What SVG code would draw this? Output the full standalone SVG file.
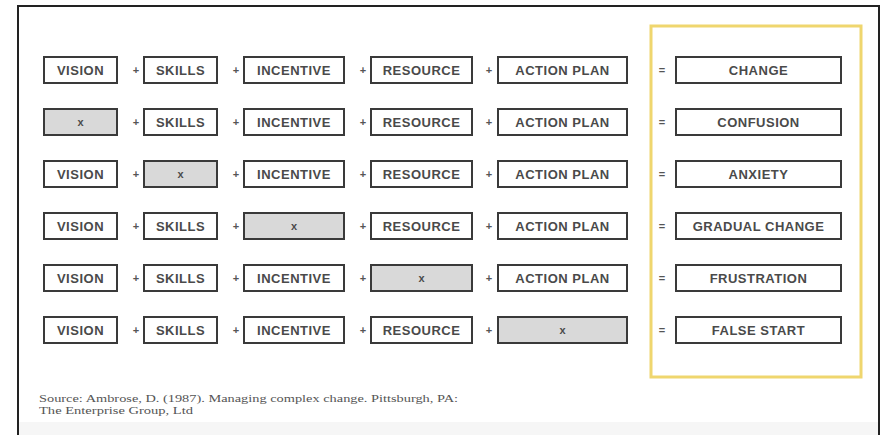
<svg xmlns="http://www.w3.org/2000/svg" width="884" height="435" viewBox="0 0 884 435">
<style>
.box{fill:#ffffff;stroke:#3a3a3a;stroke-width:2}
.empty{fill:#d9d9d9;stroke:#3a3a3a;stroke-width:2}
.lbl{font-family:"Liberation Sans",Arial,sans-serif;font-weight:bold;font-size:13px;letter-spacing:0.5px;fill:#4a4a4a;text-anchor:middle}
.x{font-family:"Liberation Sans",Arial,sans-serif;font-weight:bold;font-size:11px;fill:#4a4a4a;text-anchor:middle}
.op{font-family:"Liberation Sans",Arial,sans-serif;font-weight:bold;font-size:11px;fill:#555;text-anchor:middle}
.src{font-family:"Liberation Serif","Times New Roman",serif;font-size:11px;fill:#555}
</style>
<rect x="0" y="0" width="884" height="435" fill="#ffffff"/>
<g id="frame">
<rect x="18" y="422" width="861" height="13" fill="#f6f6f6"/>
<rect x="18" y="6" width="861" height="440" fill="none" stroke="#222" stroke-width="2"/>
<rect x="651" y="26" width="210" height="351" fill="none" stroke="#efd66e" stroke-width="3"/>
</g>

<g id="row1">
<g id="r1-vision"><rect class="box" x="44" y="57" width="73" height="26"/><text class="lbl" x="80.5" y="75">VISION</text></g>
<g id="r1-skills"><rect class="box" x="144" y="57" width="73" height="26"/><text class="lbl" x="180.5" y="75">SKILLS</text></g>
<g id="r1-incentive"><rect class="box" x="244" y="57" width="100" height="26"/><text class="lbl" x="294" y="75">INCENTIVE</text></g>
<g id="r1-resource"><rect class="box" x="371" y="57" width="101" height="26"/><text class="lbl" x="421.5" y="75">RESOURCE</text></g>
<g id="r1-action"><rect class="box" x="498" y="57" width="129" height="26"/><text class="lbl" x="562.5" y="75">ACTION PLAN</text></g>
<g id="r1-result"><rect class="box" x="676" y="57" width="165" height="26"/><text class="lbl" x="758.5" y="75">CHANGE</text></g>
</g>

<g id="row2">
<g id="r2-vision"><rect class="empty" x="44" y="109" width="73" height="26"/><text class="x" x="80.5" y="126">x</text></g>
<g id="r2-skills"><rect class="box" x="144" y="109" width="73" height="26"/><text class="lbl" x="180.5" y="127">SKILLS</text></g>
<g id="r2-incentive"><rect class="box" x="244" y="109" width="100" height="26"/><text class="lbl" x="294" y="127">INCENTIVE</text></g>
<g id="r2-resource"><rect class="box" x="371" y="109" width="101" height="26"/><text class="lbl" x="421.5" y="127">RESOURCE</text></g>
<g id="r2-action"><rect class="box" x="498" y="109" width="129" height="26"/><text class="lbl" x="562.5" y="127">ACTION PLAN</text></g>
<g id="r2-result"><rect class="box" x="676" y="109" width="165" height="26"/><text class="lbl" x="758.5" y="127">CONFUSION</text></g>
</g>

<g id="row3">
<g id="r3-vision"><rect class="box" x="44" y="161" width="73" height="26"/><text class="lbl" x="80.5" y="179">VISION</text></g>
<g id="r3-skills"><rect class="empty" x="144" y="161" width="73" height="26"/><text class="x" x="180.5" y="178">x</text></g>
<g id="r3-incentive"><rect class="box" x="244" y="161" width="100" height="26"/><text class="lbl" x="294" y="179">INCENTIVE</text></g>
<g id="r3-resource"><rect class="box" x="371" y="161" width="101" height="26"/><text class="lbl" x="421.5" y="179">RESOURCE</text></g>
<g id="r3-action"><rect class="box" x="498" y="161" width="129" height="26"/><text class="lbl" x="562.5" y="179">ACTION PLAN</text></g>
<g id="r3-result"><rect class="box" x="676" y="161" width="165" height="26"/><text class="lbl" x="758.5" y="179">ANXIETY</text></g>
</g>

<g id="row4">
<g id="r4-vision"><rect class="box" x="44" y="213" width="73" height="26"/><text class="lbl" x="80.5" y="231">VISION</text></g>
<g id="r4-skills"><rect class="box" x="144" y="213" width="73" height="26"/><text class="lbl" x="180.5" y="231">SKILLS</text></g>
<g id="r4-incentive"><rect class="empty" x="244" y="213" width="100" height="26"/><text class="x" x="294" y="230">x</text></g>
<g id="r4-resource"><rect class="box" x="371" y="213" width="101" height="26"/><text class="lbl" x="421.5" y="231">RESOURCE</text></g>
<g id="r4-action"><rect class="box" x="498" y="213" width="129" height="26"/><text class="lbl" x="562.5" y="231">ACTION PLAN</text></g>
<g id="r4-result"><rect class="box" x="676" y="213" width="165" height="26"/><text class="lbl" x="758.5" y="231">GRADUAL CHANGE</text></g>
</g>

<g id="row5">
<g id="r5-vision"><rect class="box" x="44" y="265" width="73" height="26"/><text class="lbl" x="80.5" y="283">VISION</text></g>
<g id="r5-skills"><rect class="box" x="144" y="265" width="73" height="26"/><text class="lbl" x="180.5" y="283">SKILLS</text></g>
<g id="r5-incentive"><rect class="box" x="244" y="265" width="100" height="26"/><text class="lbl" x="294" y="283">INCENTIVE</text></g>
<g id="r5-resource"><rect class="empty" x="371" y="265" width="101" height="26"/><text class="x" x="421.5" y="282">x</text></g>
<g id="r5-action"><rect class="box" x="498" y="265" width="129" height="26"/><text class="lbl" x="562.5" y="283">ACTION PLAN</text></g>
<g id="r5-result"><rect class="box" x="676" y="265" width="165" height="26"/><text class="lbl" x="758.5" y="283">FRUSTRATION</text></g>
</g>

<g id="row6">
<g id="r6-vision"><rect class="box" x="44" y="317" width="73" height="26"/><text class="lbl" x="80.5" y="335">VISION</text></g>
<g id="r6-skills"><rect class="box" x="144" y="317" width="73" height="26"/><text class="lbl" x="180.5" y="335">SKILLS</text></g>
<g id="r6-incentive"><rect class="box" x="244" y="317" width="100" height="26"/><text class="lbl" x="294" y="335">INCENTIVE</text></g>
<g id="r6-resource"><rect class="box" x="371" y="317" width="101" height="26"/><text class="lbl" x="421.5" y="335">RESOURCE</text></g>
<g id="r6-action"><rect class="empty" x="498" y="317" width="129" height="26"/><text class="x" x="562.5" y="334">x</text></g>
<g id="r6-result"><rect class="box" x="676" y="317" width="165" height="26"/><text class="lbl" x="758.5" y="335">FALSE START</text></g>
</g>

<g id="connectors">
<text class="op" x="136" y="74">+</text><text class="op" x="236" y="74">+</text><text class="op" x="363" y="74">+</text><text class="op" x="489" y="74">+</text><text class="op" x="662" y="74">=</text>
<text class="op" x="136" y="126">+</text><text class="op" x="236" y="126">+</text><text class="op" x="363" y="126">+</text><text class="op" x="489" y="126">+</text><text class="op" x="662" y="126">=</text>
<text class="op" x="136" y="178">+</text><text class="op" x="236" y="178">+</text><text class="op" x="363" y="178">+</text><text class="op" x="489" y="178">+</text><text class="op" x="662" y="178">=</text>
<text class="op" x="136" y="230">+</text><text class="op" x="236" y="230">+</text><text class="op" x="363" y="230">+</text><text class="op" x="489" y="230">+</text><text class="op" x="662" y="230">=</text>
<text class="op" x="136" y="282">+</text><text class="op" x="236" y="282">+</text><text class="op" x="363" y="282">+</text><text class="op" x="489" y="282">+</text><text class="op" x="662" y="282">=</text>
<text class="op" x="136" y="334">+</text><text class="op" x="236" y="334">+</text><text class="op" x="363" y="334">+</text><text class="op" x="489" y="334">+</text><text class="op" x="662" y="334">=</text>
</g>

<g id="source">
<text class="src" x="39" y="402" textLength="419" lengthAdjust="spacingAndGlyphs">Source: Ambrose, D. (1987). Managing complex change. Pittsburgh, PA:</text>
<text class="src" x="39" y="414" textLength="154" lengthAdjust="spacingAndGlyphs">The Enterprise Group, Ltd</text>
</g>
</svg>
